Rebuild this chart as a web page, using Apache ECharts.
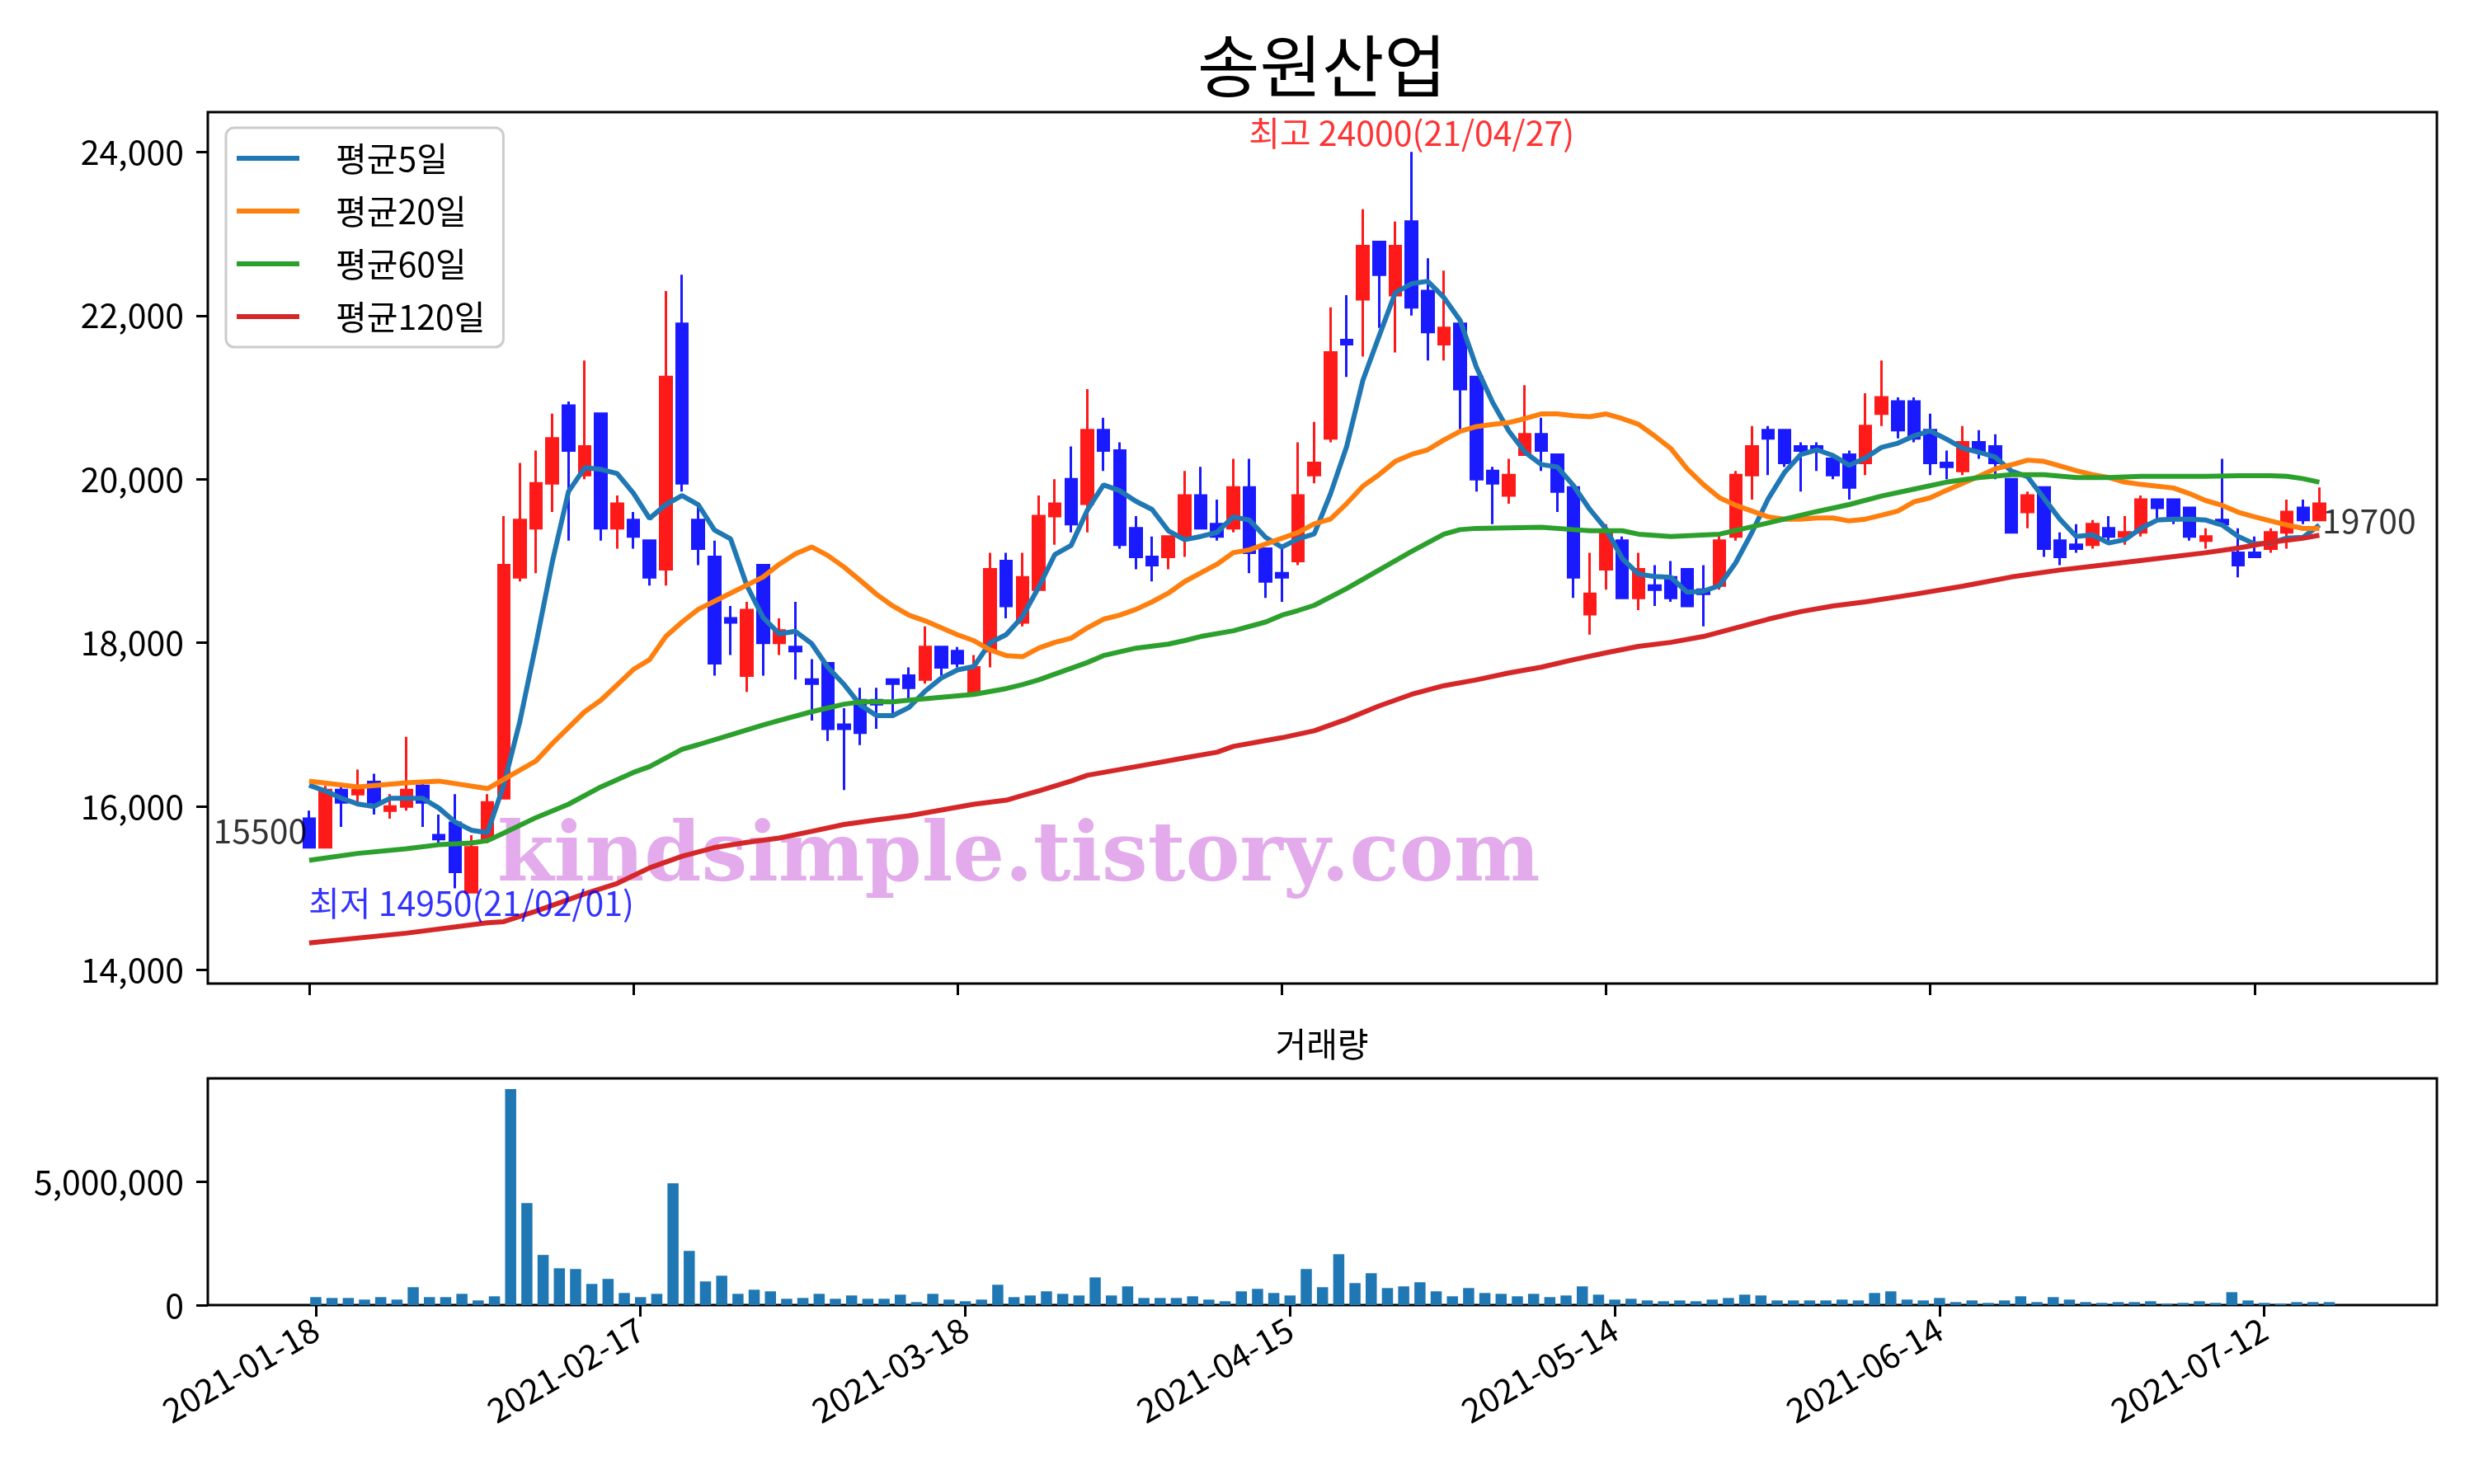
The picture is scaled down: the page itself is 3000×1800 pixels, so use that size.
<!DOCTYPE html>
<html><head><meta charset="utf-8">
<script src="https://cdn.jsdelivr.net/npm/echarts@6/dist/echarts.min.js"></script>
<style>html,body{margin:0;padding:0;background:#fff}#c{width:3000px;height:1800px}</style>
</head><body><div id="c"></div>
<script>
const FONT = "'Noto Sans CJK KR','Noto Sans',sans-serif";
const title = '송원산업';
const volTitle = '거래량';
const tickIdx = [0,20,40,60,80,100,120];
const tickLabels = ['2021-01-18','2021-02-17','2021-03-18','2021-04-15','2021-05-14','2021-06-14','2021-07-12'];
const priceTicks = [14000,16000,18000,20000,22000,24000];
const volTicks = [0,5000000];

const open = [15850,15500,16200,16150,16300,15950,16000,16250,15650,15800,
14950,15600,16100,18800,19400,19950,20900,20050,20800,19400,
19500,19250,18900,21900,19500,19050,18300,17600,18950,18000,
17950,17550,17750,17000,17300,17300,17550,17600,17550,17950,
17900,17400,17900,19000,18250,18650,19550,20000,19700,20600,
20350,19400,19050,19050,19300,19800,19450,19400,19900,19150,
18850,19000,20050,20500,21700,22200,22900,22250,23150,22300,
21650,21900,21250,20100,19800,20300,20550,20300,19900,18350,
18900,19250,18550,18700,18800,18900,18650,18700,19300,20050,
20600,20600,20400,20400,20250,20300,20200,20800,20950,20950,
20600,20200,20100,20450,20400,20000,19600,19900,19250,19200,
19200,19400,19300,19350,19750,19750,19650,19250,19500,19100,
19100,19150,19350,19650,19500];
const high = [15950,16250,16250,16450,16400,16150,16850,16300,15900,16150,
15650,16150,19550,20200,20350,20800,20950,21450,20800,19800,
19600,19250,22300,22500,19700,19250,18450,18500,18950,18300,
18500,17800,17750,17200,17450,17450,17550,17700,18200,17950,
17950,17850,19100,19100,19100,19800,20000,20400,21100,20750,
20450,19550,19300,19300,20100,20150,19750,20250,20250,19150,
19150,20450,20700,22100,22250,23300,22900,23150,24000,22700,
22550,21900,21250,20150,20250,21150,20750,20300,19900,19100,
19450,19300,19100,18950,19000,18900,18950,19300,20100,20650,
20650,20600,20450,20450,20250,20350,21050,21450,21000,21000,
20800,20350,20650,20600,20550,20000,19850,19900,19350,19450,
19500,19550,19550,19800,19750,19750,19650,19400,20250,19400,
19300,19400,19750,19750,19900];
const low = [15500,15500,15750,16050,15900,15850,15950,15750,15550,15000,
14950,15550,16100,18750,18850,19600,19250,20000,19250,19150,
19150,18700,18700,19850,18950,17600,17850,17400,17600,17850,
17550,17050,16800,16200,16750,16950,17100,17300,17500,17600,
17700,17400,17700,18300,18200,18650,19200,19350,19350,20100,
19150,18900,18750,18900,19050,19400,19250,19350,18850,18550,
18500,18950,19950,20450,21250,21500,21850,21550,22000,21450,
21450,20600,19850,19450,19700,20300,20100,19600,18550,18100,
18650,18550,18400,18450,18500,18450,18200,18650,19250,19750,
20050,20150,19850,20100,20000,19750,20050,20650,20500,20450,
20050,20000,20050,20250,20000,19350,19400,19050,18950,19100,
19150,19200,19200,19300,19500,19450,19250,19150,19450,18800,
19050,19100,19150,19450,19500];
const close = [15500,16200,16050,16200,16050,16000,16200,16050,15600,15200,
15500,16050,18950,19500,19950,20500,20350,20400,19400,19700,
19300,18800,21250,19950,19150,17750,18250,18400,18000,18150,
17900,17500,16950,16950,16900,17250,17500,17450,17950,17700,
17750,17700,18900,18450,18800,19550,19700,19450,20600,20350,
19200,19050,18950,19300,19800,19400,19300,19900,19100,18750,
18800,19800,20200,21550,21650,22850,22500,22850,22100,21800,
21850,21100,20000,19950,20050,20550,20350,19850,18800,18600,
19350,18550,18900,18650,18550,18450,18600,19250,20050,20400,
20500,20200,20350,20350,20050,19900,20650,21000,20600,20500,
20200,20150,20450,20350,20200,19350,19800,19150,19050,19150,
19450,19300,19350,19750,19650,19500,19300,19300,19450,18950,
19050,19350,19600,19500,19700];
const volume = [323000,289000,289000,223000,323000,223000,724000,323000,323000,456000,
189000,356000,8740000,4130000,2030000,1490000,1460000,857000,1060000,490000,
323000,456000,4930000,2190000,957000,1190000,456000,623000,557000,256000,
289000,456000,256000,390000,256000,256000,423000,122000,456000,223000,
156000,223000,824000,323000,390000,557000,456000,390000,1120000,390000,
757000,289000,289000,289000,356000,223000,156000,557000,657000,490000,
390000,1460000,724000,2060000,891000,1290000,690000,757000,924000,557000,
356000,690000,490000,456000,356000,456000,323000,390000,757000,423000,
223000,256000,189000,156000,189000,156000,223000,289000,423000,390000,
189000,189000,189000,189000,223000,189000,490000,557000,223000,189000,
289000,122000,189000,89000,189000,356000,122000,323000,223000,122000,
89000,122000,122000,156000,56000,89000,156000,89000,523000,189000,
89000,56000,122000,122000,122000];
const ma5 = [16260,16190,16100,16030,16000,16100,16100,16100,15980,15810,
15710,15680,16260,17040,17990,18990,19850,20140,20120,20070,
19830,19520,19690,19800,19690,19380,19270,18700,18310,18110,
18140,17990,17700,17490,17240,17110,17110,17210,17410,17570,
17670,17710,18000,18100,18320,18680,19080,19190,19620,19930,
19860,19730,19630,19370,19260,19300,19350,19540,19500,19290,
19170,19270,19330,19820,20400,21210,21750,22280,22390,22420,
22220,21940,21370,20940,20590,20330,20180,20150,19920,19630,
19390,19030,18840,18810,18800,18620,18630,18700,18980,19350,
19760,20080,20300,20360,20290,20170,20260,20390,20440,20530,
20590,20490,20380,20330,20270,20100,20030,19770,19510,19300,
19320,19220,19260,19400,19500,19510,19510,19500,19440,19300,
19210,19220,19280,19290,19440];
const ma20 = [[0,16310],[3,16239],[6,16288],[8,16310],[11,16218],[12,16331],[14,16557],[15,16769],[17,17158],[18,17299],[20,17674],[21,17794],[22,18077],[23,18254],[24,18409],[26,18607],[28,18805],[29,18960],[30,19087],[31,19172],[32,19066],[33,18925],[34,18762],[35,18593],[36,18451],[37,18338],[38,18268],[39,18183],[40,18098],[41,18027],[42,17914],[43,17844],[44,17830],[45,17935],[46,18006],[47,18056],[48,18183],[49,18289],[50,18338],[51,18409],[52,18501],[53,18607],[54,18748],[55,18854],[56,18960],[57,19102],[58,19137],[59,19208],[60,19278],[61,19349],[62,19455],[63,19512],[64,19702],[65,19915],[66,20056],[67,20218],[68,20303],[69,20360],[70,20480],[71,20586],[72,20643],[73,20671],[74,20692],[75,20741],[76,20798],[77,20798],[78,20777],[79,20763],[80,20798],[81,20741],[82,20671],[83,20529],[84,20374],[85,20127],[86,19936],[87,19773],[88,19681],[89,19611],[90,19540],[91,19512],[92,19512],[93,19526],[94,19526],[95,19490],[96,19512],[97,19561],[98,19611],[99,19724],[100,19773],[101,19865],[102,19950],[103,20035],[104,20127],[105,20176],[106,20233],[107,20218],[108,20162],[109,20105],[110,20056],[111,20021],[112,19964],[113,19936],[114,19915],[115,19893],[116,19823],[117,19738],[118,19681],[119,19596],[120,19540],[121,19490],[122,19441],[123,19398],[124,19398]];
const ma60 = [[0,15341],[3,15426],[6,15483],[8,15532],[10,15553],[11,15582],[12,15674],[14,15864],[16,16027],[18,16239],[20,16416],[21,16487],[22,16593],[23,16699],[24,16755],[26,16875],[28,16995],[29,17050],[31,17158],[33,17250],[34,17278],[36,17278],[37,17299],[39,17335],[41,17370],[43,17441],[44,17490],[45,17547],[47,17688],[48,17759],[49,17844],[51,17935],[53,17985],[54,18027],[55,18077],[57,18147],[59,18254],[60,18338],[61,18395],[62,18458],[64,18663],[66,18890],[68,19116],[70,19328],[71,19384],[72,19399],[76,19413],[78,19384],[79,19370],[81,19370],[82,19328],[84,19300],[87,19328],[89,19420],[91,19512],[93,19605],[95,19690],[97,19794],[99,19879],[101,19964],[103,20021],[105,20056],[107,20056],[109,20021],[111,20021],[113,20035],[115,20035],[117,20035],[119,20042],[121,20042],[122,20035],[123,20006],[124,19964]];
const ma120 = [[0,14331],[6,14451],[11,14578],[12,14592],[14,14720],[17,14932],[19,15059],[21,15250],[23,15391],[25,15497],[27,15560],[29,15614],[31,15695],[33,15780],[35,15836],[37,15886],[39,15956],[41,16027],[43,16077],[44,16133],[45,16190],[47,16310],[48,16381],[50,16451],[52,16522],[54,16593],[56,16663],[57,16734],[59,16805],[60,16840],[62,16925],[64,17066],[66,17229],[68,17370],[70,17476],[72,17547],[74,17632],[76,17702],[78,17794],[80,17879],[82,17957],[84,18006],[86,18077],[88,18183],[90,18289],[92,18381],[94,18450],[96,18501],[99,18593],[102,18692],[105,18805],[108,18890],[111,18960],[114,19031],[117,19102],[119,19158],[121,19229],[123,19278],[124,19314]];
const maNames = ['평균5일','평균20일','평균60일','평균120일'];
const hiNote = {i:68, v:24000, text:'최고 24000(21/04/27)'};
const loNote = {i:10, v:14950, text:'최저 14950(21/02/01)'};
const firstNote = {i:0, v:15500, text:'15500'};
const lastNote = {i:124, v:19700, text:'19700'};

const chart = echarts.init(document.getElementById('c'), null, {renderer:'canvas', width:3000, height:1800});
const fmt = v => Math.round(v).toLocaleString('en-US');
const tickStyle = {show:true, length:14, lineStyle:{color:'#000', width:3}};
const noLine = {show:false, onZero:false};
const candleData = close.map((c,i)=>[i, open[i], c, low[i], high[i]]);
const ma5Data = ma5.map((v,i)=>[i,v]);
const volData = volume.map((v,i)=>[i,v]);

const option = {
  animation:false,
  backgroundColor:'#fff',
  textStyle:{fontFamily:FONT},
  grid:[
    {left:252, top:136, width:2703, height:1057, show:true, borderColor:'#000', borderWidth:3, backgroundColor:'rgba(0,0,0,0)', outerBoundsMode:'none', containLabel:false},
    {left:252, top:1308, width:2703, height:275, show:true, borderColor:'#000', borderWidth:3, backgroundColor:'rgba(0,0,0,0)', outerBoundsMode:'none', containLabel:false}
  ],
  xAxis:[
    {type:'value', gridIndex:0, min:-6.25, max:131.25, position:'bottom', axisLine:noLine, splitLine:{show:false},
      axisTick:Object.assign({customValues:tickIdx}, tickStyle), axisLabel:{show:false}},
    {type:'value', gridIndex:1, min:-6.65, max:130.63, position:'bottom', axisLine:noLine, splitLine:{show:false},
      axisTick:Object.assign({customValues:tickIdx}, tickStyle),
      axisLabel:{show:true, customValues:tickIdx, rotate:30, margin:26, fontSize:41, color:'#000', fontFamily:FONT,
        formatter:v=>{const k=tickIdx.indexOf(Math.round(v)); return k>=0?tickLabels[k]:'';}}}
  ],
  yAxis:[
    {type:'value', gridIndex:0, min:13835, max:24487, position:'left', axisLine:noLine, splitLine:{show:false},
      axisTick:Object.assign({customValues:priceTicks}, tickStyle),
      axisLabel:{show:true, customValues:priceTicks, margin:29, fontSize:41, color:'#000', fontFamily:FONT, formatter:fmt}},
    {type:'value', gridIndex:1, min:0, max:9175000, position:'left', axisLine:noLine, splitLine:{show:false},
      axisTick:Object.assign({customValues:volTicks}, tickStyle),
      axisLabel:{show:true, customValues:volTicks, margin:29, fontSize:41, color:'#000', fontFamily:FONT, formatter:fmt}}
  ],
  legend:{
    orient:'vertical', left:274, top:155, data:maNames, selectedMode:false,
    icon:'rect', itemWidth:76, itemHeight:6, itemGap:14,
    padding:[12,22,12,13], borderColor:'#cccccc', borderWidth:3, borderRadius:10, backgroundColor:'#ffffff',
    textStyle:{fontSize:41, lineHeight:50, color:'#000', fontFamily:FONT, padding:[0,0,0,39]}
  },
  graphic:[
    {type:'text', x:1603, y:80, z:10, style:{text:title, fontSize:82, fontFamily:FONT, fill:'#000', align:'center', verticalAlign:'middle'}},
    {type:'text', x:1603, y:1266, z:10, style:{text:volTitle, fontSize:41, fontFamily:FONT, fill:'#000', align:'center', verticalAlign:'middle'}},
    {type:'text', x:603, y:1042, z:1, silent:true, style:{text:'kindsimple.tistory.com', fontSize:99, fontWeight:'bold', fontFamily:"'DejaVu Serif',serif", fill:'#e3aaec', align:'left', verticalAlign:'middle'}}
  ],
  series:[
    {type:'candlestick', name:'candle', xAxisIndex:0, yAxisIndex:0, data:candleData, encode:{x:0, y:[1,2,3,4]}, barWidth:14,
      itemStyle:{color:'#ff1a1a', color0:'#1a1aff', borderColor:'#ff1a1a', borderColor0:'#1a1aff', borderWidth:3}, z:2},
    {type:'line', name:maNames[0], xAxisIndex:0, yAxisIndex:0, data:ma5Data, showSymbol:false, symbol:'none', color:'#1f77b4', lineStyle:{width:6, color:'#1f77b4'}, z:3},
    {type:'line', name:maNames[1], xAxisIndex:0, yAxisIndex:0, data:ma20, showSymbol:false, symbol:'none', color:'#ff7f0e', lineStyle:{width:6, color:'#ff7f0e'}, z:3},
    {type:'line', name:maNames[2], xAxisIndex:0, yAxisIndex:0, data:ma60, showSymbol:false, symbol:'none', color:'#2ca02c', lineStyle:{width:6, color:'#2ca02c'}, z:3},
    {type:'line', name:maNames[3], xAxisIndex:0, yAxisIndex:0, data:ma120, showSymbol:false, symbol:'none', color:'#d62728', lineStyle:{width:6, color:'#d62728'}, z:3},
    {type:'scatter', name:'notes', xAxisIndex:0, yAxisIndex:0, symbolSize:1, itemStyle:{color:'rgba(0,0,0,0)'}, silent:true, z:5,
      data:[
        {value:[hiNote.i, hiNote.v], label:{show:true, formatter:hiNote.text, position:'top', distance:2, color:'#ff0000', fontSize:41, fontFamily:FONT}},
        {value:[loNote.i, loNote.v], label:{show:true, formatter:loNote.text, position:'bottom', distance:0, offset:[0,-8], color:'#0000ff', fontSize:41, fontFamily:FONT}},
        {value:[firstNote.i, firstNote.v], label:{show:true, formatter:firstNote.text, position:'left', distance:2, verticalAlign:'bottom', color:'#000', fontSize:41, fontFamily:FONT}},
        {value:[lastNote.i, lastNote.v], label:{show:true, formatter:lastNote.text, position:'right', distance:3, verticalAlign:'top', color:'#000', fontSize:41, fontFamily:FONT}}
      ]},
    {type:'bar', name:'volume', xAxisIndex:1, yAxisIndex:1, data:volData, barWidth:13.5, itemStyle:{color:'#1f77b4'}}
  ]
};
chart.setOption(option);
</script></body></html>
